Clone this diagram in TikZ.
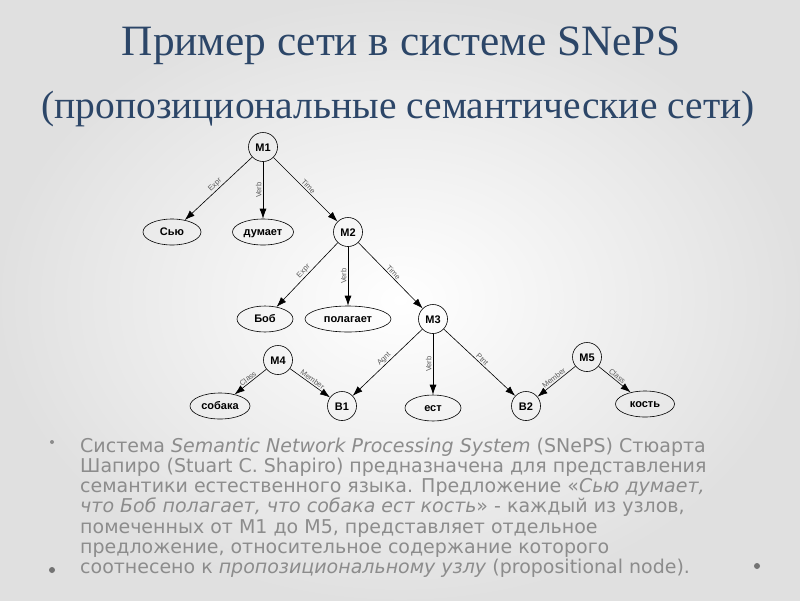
\documentclass[tikz,border=0pt]{standalone}
\usepackage{fontspec}
\setmainfont{Liberation Serif}
\newfontfamily\graphfont{Liberation Sans}
\newfontfamily\bodyfont{DejaVu Sans}
\usetikzlibrary{arrows.meta,shapes.geometric}
\definecolor{titleblue}{RGB}{44,70,104}
\definecolor{bodygray}{RGB}{140,140,140}
\definecolor{labgray}{RGB}{90,90,90}
\tikzset{
  pnode/.style={circle,draw,line width=0.6pt,minimum size=29pt,inner sep=0pt,
    text height=8pt,text depth=0pt,
    font=\graphfont\bfseries\fontsize{11}{12}\selectfont},
  enode/.style={ellipse,draw,line width=0.6pt,minimum height=26pt,inner sep=0pt,
    text height=6pt,text depth=0pt,
    font=\graphfont\bfseries\fontsize{11}{12}\selectfont},
  arc/.style={draw,line width=0.6pt,-{Latex[length=10pt,width=7pt]}},
  lab/.style={font=\graphfont\fontsize{7.5}{8}\selectfont,text=labgray,
    inner sep=1.2pt,midway,sloped,above},
  vlab/.style={font=\graphfont\fontsize{7.5}{8}\selectfont,text=labgray,
    inner sep=1.2pt,midway,rotate=90,anchor=south},
  bodyline/.style={anchor=base west,inner sep=0pt,text=bodygray,
    text height=13pt,text depth=3pt,
    font=\bodyfont\fontsize{19}{22}\selectfont},
  dotmark/.style={circle,fill=bodygray,inner sep=0pt},
  titlebox/.style={text=titleblue,inner sep=0pt}
}
\begin{document}
\begin{tikzpicture}[x=1pt,y=-1pt]
\useasboundingbox (0,0) rectangle (800,600);
\shade[inner color=white,outer color=black!12] (0,0) rectangle (800,600);

% titles
\node[titlebox] (t1) at (401,46)
  {\resizebox{558pt}{!}{Пример сети в системе SNePS}};
\node[titlebox] (t2) at (398,109)
  {\resizebox{713pt}{!}{(пропозициональные семантические сети)}};

% graph nodes
\node[pnode] (M1) at (263,147) {M1};
\node[enode,minimum width=58pt] (sue) at (172,232) {Сью};
\node[enode,minimum width=61pt] (thinks) at (263,232) {думает};
\node[pnode] (M2) at (348,232) {M2};
\node[enode,minimum width=56pt] (bob) at (265,319) {Боб};
\node[enode,minimum width=86pt] (bel) at (348,319) {полагает};
\node[pnode] (M3) at (433,319) {M3};
\node[pnode] (M4) at (278,360) {M4};
\node[enode,minimum width=60pt] (dog) at (220,406) {собака};
\node[pnode] (B1) at (342,406) {B1};
\node[enode,minimum width=56pt] (eats) at (433,408) {ест};
\node[pnode] (B2) at (526,406) {B2};
\node[pnode] (M5) at (587,357) {M5};
\node[enode,minimum width=59pt] (bone) at (645,404) {кость};

% edges
\draw[arc] (M1) -- node[lab] {Expr} (sue);
\draw[arc] (M1) -- node[vlab] {Verb} (thinks);
\draw[arc] (M1) -- node[lab] {Time} (M2);
\draw[arc] (M2) -- node[lab] {Expr} (bob);
\draw[arc] (M2) -- node[vlab] {Verb} (bel);
\draw[arc] (M2) -- node[lab] {Time} (M3);
\draw[arc] (M3) -- node[lab] {Agnt} (B1);
\draw[arc] (M3) -- node[vlab] {Verb} (eats);
\draw[arc] (M3) -- node[lab] {Ptnt} (B2);
\draw[arc] (M4) -- node[lab] {Class} (dog);
\draw[arc] (M4) -- node[lab] {Member} (B1);
\draw[arc] (M5) -- node[lab] {Member} (B2);
\draw[arc] (M5) -- node[lab] {Class} (bone);

% body text
\node[dotmark,minimum size=4pt] (d1) at (52,442) {};
\node[bodyline] (l1) at (80,452) {Система \textit{Semantic Network Processing System} (SNePS) Стюарта};
\node[bodyline] (l2) at (80,472.3) {Шапиро (Stuart C. Shapiro) предназначена для представления};
\node[bodyline] (l3) at (80,492.6) {семантики естественного языка. Предложение «\textit{Сью думает,}};
\node[bodyline] (l4) at (80,512.9) {\textit{что Боб полагает, что собака ест кость}» - каждый из узлов,};
\node[bodyline] (l5) at (80,533.2) {помеченных от M1 до M5, представляет отдельное};
\node[bodyline] (l6) at (80,553.5) {предложение, относительное содержание которого};
\node[bodyline] (l7) at (80,573.8) {соотнесено к \textit{пропозициональному узлу} (propositional node).};
\node[dotmark,minimum size=6pt,fill=black!55] (d2) at (52,570) {};
\node[dotmark,minimum size=6pt,fill=black!55] (d3) at (757,566) {};
\end{tikzpicture}
\end{document}
